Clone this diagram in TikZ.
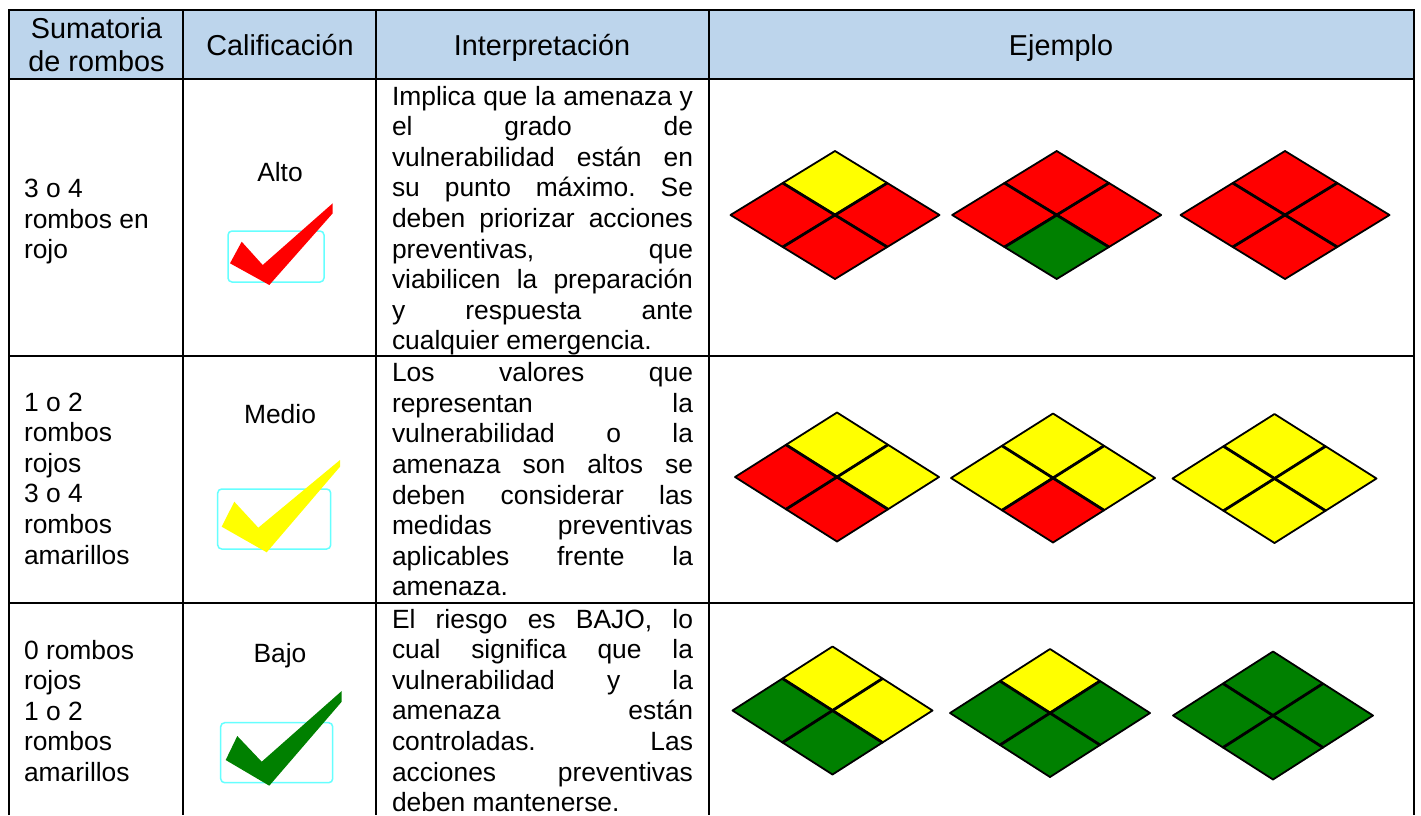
\documentclass[tikz,border=0pt]{standalone}
\usepackage{fontspec}
\setmainfont{Liberation Sans}
\newcommand{\bodyfnt}{\fontsize{26.4}{30.6}\selectfont}
\newcommand{\headfnt}{\fontsize{28.8}{33.6}\selectfont}
\newcommand{\jl}[1]{\makebox[301pt][s]{\spaceskip=.278em plus 1fil minus .1em\relax\xspaceskip=\spaceskip #1}}
\newcommand{\toprule}{\rule{0pt}{20pt}\spaceskip=.278em\relax\xspaceskip=.278em\relax}
\definecolor{headblue}{HTML}{BDD5EC}
\definecolor{rgreen}{HTML}{008000}
\definecolor{ryellow}{HTML}{FFFF00}
\definecolor{rred}{HTML}{FF0000}
\definecolor{boxcyan}{HTML}{66FFFF}
\tikzset{
  x=1pt,y=-1pt,
  grid line/.style={black,line width=2.2pt},
  row line/.style={black,line width=1.6pt},
  cell/.style={inner sep=0pt,outer sep=0pt,anchor=north west,align=left,font=\bodyfnt,execute at begin node=\toprule},
  just cell/.style={cell,text width=301pt},
  grade/.style={inner sep=0pt,outer sep=0pt,anchor=north,align=center,font=\bodyfnt,execute at begin node=\toprule},
  head/.style={inner sep=0pt,outer sep=0pt,anchor=north,align=center,font=\headfnt,execute at begin node=\toprule},
  tile/.style={draw=black,line width=1.8pt,line join=round},
  cross/.style={black,line width=2.8pt},
  boxcheck/.style={draw=boxcyan,line width=1.5pt,rounded corners=4pt},
}
% cx cy halfwidth halfheight top left right bottom
\newcommand{\rombo}[8]{%
  \filldraw[tile,fill=#5] (#1,#2) -- (#1-#3/2,#2-#4/2) -- (#1,#2-#4) -- (#1+#3/2,#2-#4/2) -- cycle;
  \filldraw[tile,fill=#6] (#1,#2) -- (#1-#3/2,#2-#4/2) -- (#1-#3,#2) -- (#1-#3/2,#2+#4/2) -- cycle;
  \filldraw[tile,fill=#7] (#1,#2) -- (#1+#3/2,#2-#4/2) -- (#1+#3,#2) -- (#1+#3/2,#2+#4/2) -- cycle;
  \filldraw[tile,fill=#8] (#1,#2) -- (#1-#3/2,#2+#4/2) -- (#1,#2+#4) -- (#1+#3/2,#2+#4/2) -- cycle;
  \draw[cross] (#1-#3/2,#2-#4/2) -- (#1+#3/2,#2+#4/2);
  \draw[cross] (#1+#3/2,#2-#4/2) -- (#1-#3/2,#2+#4/2);
}
\begin{document}
\begin{tikzpicture}
\useasboundingbox (0,0) rectangle (1421,815);
\fill[white] (0,0) rectangle (1421,815);
\fill[headblue] (9,10) rectangle (1414,79);
% grid
\draw[grid line] (9,815) -- (9,10) -- (1414,10) -- (1414,815);
\draw[grid line] (9,79) -- (1414,79);
\draw[grid line] (183,10) -- (183,815);
\draw[grid line] (376,10) -- (376,815);
\draw[grid line] (709,10) -- (709,815);
\draw[row line] (9,356) -- (1414,356);
\draw[row line] (9,603) -- (1414,603);
% header
\node[head] (h1) at (96.5,17.5) {Sumatoria\\de rombos};
\node[head] (h2) at (280,34.5) {Calificación};
\node[head] (h3) at (542,34.5) {Interpretación};
\node[head] (h4) at (1061,34.5) {Ejemplo};
% first column
\node[cell] (a1) at (24,179) {3 o 4\\rombos en\\rojo};
\node[cell] (a2) at (24,392.7) {1 o 2\\rombos\\rojos\\3 o 4\\rombos\\amarillos};
\node[cell] (a3) at (24,640) {0 rombos\\rojos\\1 o 2\\rombos\\amarillos};
% second column
\node[grade] (b1) at (280,161) {Alto};
\node[grade] (b2) at (280,403) {Medio};
\node[grade] (b3) at (280,642) {Bajo};
% third column
\node[just cell] (c1) at (392,85) {\jl{Implica que la amenaza y}\\\jl{el grado de}\\\jl{vulnerabilidad están en}\\\jl{su punto máximo. Se}\\\jl{deben priorizar acciones}\\\jl{preventivas, que}\\\jl{viabilicen la preparación}\\\jl{y respuesta ante}\\cualquier emergencia.};
\node[just cell] (c2) at (392,361.7) {\jl{Los valores que}\\\jl{representan la}\\\jl{vulnerabilidad o la}\\\jl{amenaza son altos se}\\\jl{deben considerar las}\\\jl{medidas preventivas}\\\jl{aplicables frente la}\\amenaza.};
\node[just cell] (c3) at (392,608) {\jl{El riesgo es BAJO, lo}\\\jl{cual significa que la}\\\jl{vulnerabilidad y la}\\\jl{amenaza están}\\\jl{controladas. Las}\\\jl{acciones preventivas}\\deben mantenerse.};
% checks
\draw[boxcheck] (228,231) rectangle (324,282);
\fill[rred] (230,263.3) -- (241.7,241.7) -- (262.7,265) -- (332.7,203.3) -- (332.7,213.3) -- (269.3,285) -- cycle;
\draw[boxcheck] (217.7,489) rectangle (330.7,549);
\fill[ryellow] (221.7,526.7) -- (234.3,501.7) -- (258.3,527.7) -- (340,460) -- (340,466.7) -- (266.7,552.3) -- cycle;
\draw[boxcheck] (220.7,722.7) rectangle (332.7,782.7);
\fill[rgreen] (225.7,760) -- (237.3,736) -- (261.7,761.7) -- (341.7,691) -- (341.7,701.7) -- (269.3,785.7) -- cycle;
% rombos
\rombo{835}{215}{104.5}{64}{ryellow}{rred}{rred}{rred}
\rombo{1056.7}{215}{104.5}{64}{rred}{rred}{rred}{rgreen}
\rombo{1285}{215}{104.5}{64}{rred}{rred}{rred}{rred}
\rombo{837}{477}{102}{64.5}{ryellow}{rred}{ryellow}{rred}
\rombo{1053}{478}{102}{64.5}{ryellow}{ryellow}{ryellow}{rred}
\rombo{1274.5}{478.5}{102}{64.5}{ryellow}{ryellow}{ryellow}{ryellow}
\rombo{832.5}{710.5}{100}{64}{ryellow}{rgreen}{ryellow}{rgreen}
\rombo{1050}{713}{100}{64}{ryellow}{rgreen}{rgreen}{rgreen}
\rombo{1273}{715.5}{100}{64}{rgreen}{rgreen}{rgreen}{rgreen}
\end{tikzpicture}
\end{document}
